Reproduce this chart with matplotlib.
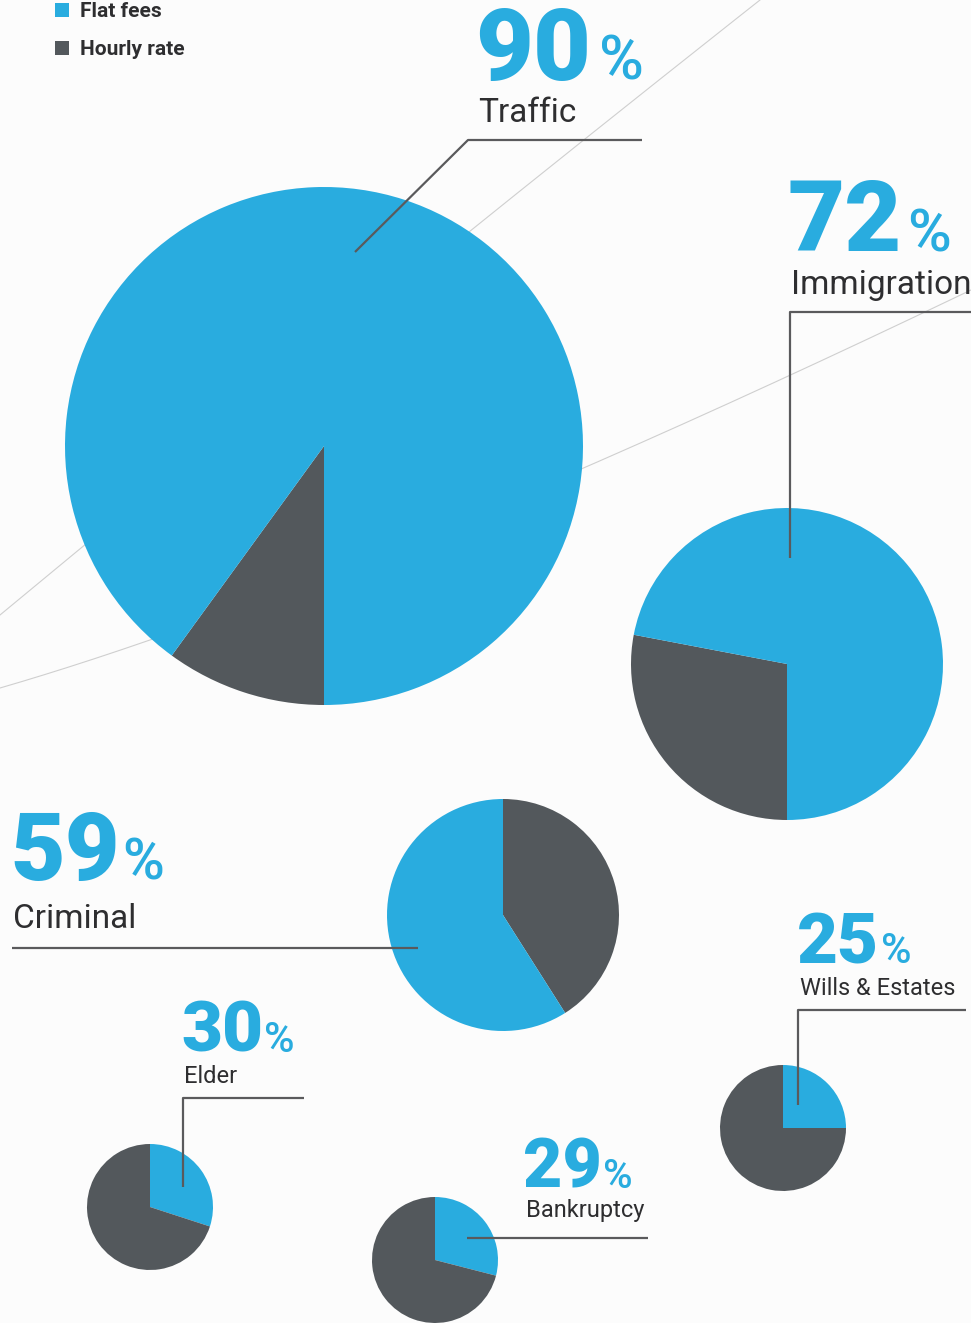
import matplotlib
matplotlib.use("Agg")
import matplotlib.pyplot as plt
import numpy as np

# ---------------- data ----------------
categories = ["Traffic", "Immigration", "Criminal", "Wills & Estates", "Elder", "Bankruptcy"]
flat_fees = [90, 72, 59, 25, 30, 29]          # % flat fees
hourly_rate = [100 - v for v in flat_fees]    # % hourly rate
legend_labels = ["Flat fees", "Hourly rate"]

# ---------------- style ----------------
W, H = 971, 1323
BLUE = "#29ACDF"
DARK = "#53585C"
TXT = "#2E2E30"
LINE = "#5A5A5C"
BG = "#FCFCFC"
plt.rcParams['font.family'] = ['Roboto', 'DejaVu Sans']

fig = plt.figure(figsize=(W / 100, H / 100), dpi=100, facecolor=BG)
ax = fig.add_axes([0, 0, 1, 1])
ax.set_facecolor(BG)
ax.set_xlim(0, W)
ax.set_ylim(0, H)

def Y(y):
    return H - y

# layout per pie: center x, center y (px from top), radius, start angle, dark first?
layout = {
    "Traffic":         (324, 446, 259, 270, True),
    "Immigration":     (787, 664, 156, 270, True),
    "Criminal":        (503, 915, 116, 90, True),
    "Wills & Estates": (783, 1128, 63, 90, False),
    "Elder":           (150, 1207, 63, 90, False),
    "Bankruptcy":      (435, 1260, 63, 90, False),
}

# decorative background curves
t = np.linspace(0, 1, 200)
p0, p1, p2 = np.array([0, 688]), np.array([358, 584]), np.array([971, 290])
cb = ((1 - t)[:, None] ** 2) * p0 + 2 * ((1 - t) * t)[:, None] * p1 + (t[:, None] ** 2) * p2
ax.plot(cb[:, 0], Y(cb[:, 1]), color="#CFCFCF", lw=0.8, zorder=0)
q0, q1, q2 = np.array([0, 615]), np.array([380, 300]), np.array([760, 0])
ca = ((1 - t)[:, None] ** 2) * q0 + 2 * ((1 - t) * t)[:, None] * q1 + (t[:, None] ** 2) * q2
ax.plot(ca[:, 0], Y(ca[:, 1]), color="#CFCFCF", lw=0.8, zorder=0)

# pies
for cat, ff, hr in zip(categories, flat_fees, hourly_rate):
    cx, cy, r, start, dark_first = layout[cat]
    if dark_first:
        vals, cols = [hr, ff], [DARK, BLUE]
    else:
        vals, cols = [ff, hr], [BLUE, DARK]
    wedges, _ = ax.pie(vals, colors=cols, startangle=start, counterclock=False,
                       center=(cx, Y(cy)), radius=r, frame=True,
                       wedgeprops=dict(linewidth=0))
    for w in wedges:
        w.set_zorder(2)

ax.set_xlim(0, W)
ax.set_ylim(0, H)
ax.set_aspect('auto')

# leader lines
leaders = {
    "Traffic":         [(355, 252), (468, 140), (642, 140)],
    "Immigration":     [(790, 558), (790, 312), (971, 312)],
    "Criminal":        [(12, 948), (418, 948)],
    "Wills & Estates": [(798, 1105), (798, 1010), (966, 1010)],
    "Elder":           [(183, 1187), (183, 1098), (304, 1098)],
    "Bankruptcy":      [(467, 1238), (648, 1238)],
}
for cat, pts in leaders.items():
    xs = [p[0] for p in pts]
    ys = [Y(p[1]) for p in pts]
    ax.plot(xs, ys, color=LINE, lw=1.6, zorder=3, solid_capstyle='butt')

# percentage labels: x, baseline y, number size, gap before %, % size, label baseline y, label size
labels = {
    "Traffic":         (475, 80, 72, 8, 44, 122, 24),
    "Immigration":     (788, 251, 71, 5, 43, 294, 24),
    "Criminal":        (10, 880, 68, 3, 41, 928, 24),
    "Wills & Estates": (797, 963, 51, 2, 30, 995, 17),
    "Elder":           (181, 1052, 51, 1, 30, 1083, 17),
    "Bankruptcy":      (523, 1188, 49, 1, 29, 1217, 17),
}
fig.canvas.draw()
renderer = fig.canvas.get_renderer()
for cat, ff in zip(categories, flat_fees):
    x, yb, ns, gap, ps, ly, ls = labels[cat]
    num = ax.text(x, Y(yb), f"{ff}", fontsize=ns, fontweight=900, color=BLUE,
                  ha='left', va='baseline', zorder=4)
    bb = num.get_window_extent(renderer=renderer)
    xr = ax.transData.inverted().transform((bb.x1, bb.y0))[0]
    ax.text(xr + gap, Y(yb), "%", fontsize=ps, fontweight=500, color=BLUE,
            ha='left', va='baseline', zorder=4)
    ax.text(x + 3, Y(ly), cat, fontsize=ls, color=TXT, ha='left', va='baseline', zorder=4)

# legend
for i, (lab, col) in enumerate(zip(legend_labels, [BLUE, DARK])):
    yy = 10 + i * 38
    ax.add_patch(plt.Rectangle((55, Y(yy + 7)), 14, 14, color=col, lw=0, zorder=4))
    ax.text(80, Y(yy + 7), lab, fontsize=15, fontweight='bold', color=TXT,
            ha='left', va='baseline', zorder=4)

ax.axis('off')
fig.savefig("out.png", dpi=100, facecolor=BG)
